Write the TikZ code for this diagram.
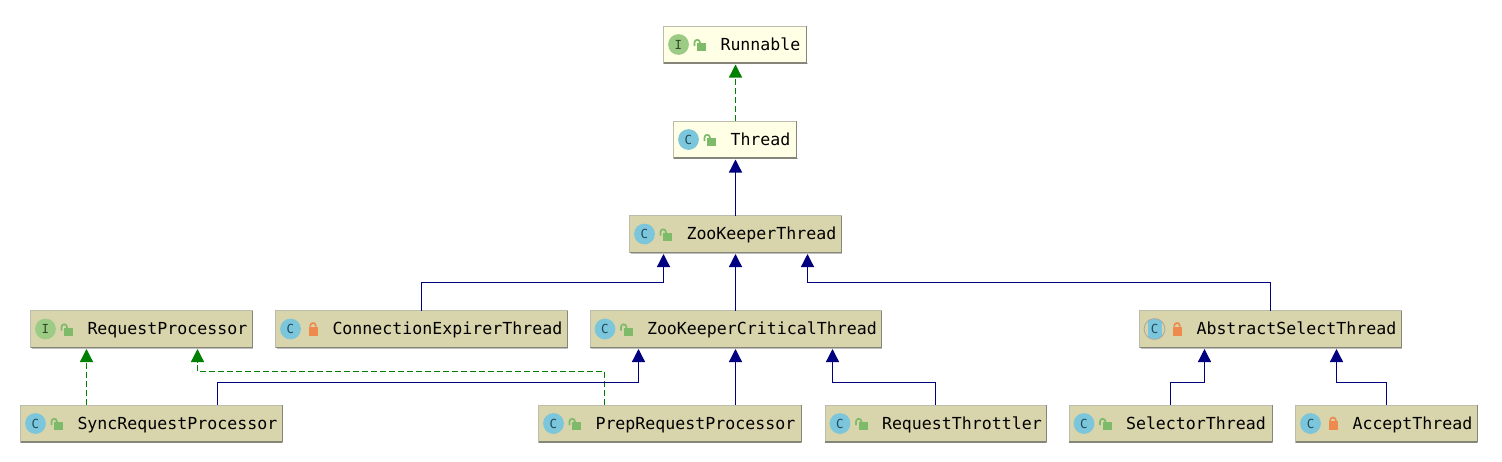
\documentclass[tikz,border=0pt]{standalone}
\usepackage{fontspec}
\newfontfamily\classfont{DejaVu Sans Mono}
\usetikzlibrary{arrows.meta,calc}
\definecolor{appbox}{HTML}{D8D4AB}
\definecolor{jdkbox}{HTML}{FFFFE6}
\definecolor{boxedge}{HTML}{BDBDAE}
\definecolor{boxshade}{HTML}{85857A}
\definecolor{ifacefill}{HTML}{9CCB85}
\definecolor{classfill}{HTML}{7CC6DC}
\definecolor{ifaceglyph}{HTML}{2F4A24}
\definecolor{classglyph}{HTML}{1F4A5C}
\definecolor{lockopen}{HTML}{7DBB6A}
\definecolor{lockshut}{HTML}{EE8A4E}
\definecolor{extendline}{HTML}{000080}
\definecolor{implline}{HTML}{008000}
\tikzset{
  x=1pt, y=-1pt,
  classbox/.style={draw=boxedge, line width=0.8pt, anchor=north west, inner sep=0pt, outer sep=0pt},
  classname/.style={anchor=base west, inner sep=0pt, outer sep=0pt, text=black,
    font=\classfont\fontsize{16.6}{18}\selectfont},
  discletter/.style={inner sep=0pt, outer sep=0pt,
    font=\classfont\fontsize{12.5}{12}\selectfont},
  glyph-I/.style={text=ifaceglyph},
  glyph-C/.style={text=classglyph},
  ifacedisc/.style={fill=ifacefill},
  classdisc/.style={fill=classfill},
  abstractdisc/.style={fill=appbox, draw=black!35, line width=0.8pt,
    path picture={\fill[classfill] ([xshift=-7pt]path picture bounding box.north) rectangle ([xshift=7pt]path picture bounding box.south);}},
  extends/.style={draw=extendline, line width=1.3pt, shorten >=1.5pt,
    -{Triangle[length=13pt,width=13pt,fill=extendline]}},
  implements/.style={draw=implline, line width=1.3pt, dash pattern=on 6pt off 3pt, shorten >=1.5pt,
    -{Triangle[length=13pt,width=13pt,fill=implline]}},
}
% Class box: name, left, top, right, bottom, fill, disc style, disc letter, lock, title
\newcommand{\umlbox}[9]{%
  \def\bxname{#1}\def\bxl{#2}\def\bxt{#3}\def\bxr{#4}\def\bxb{#5}%
  \umlboxrest{#6}{#7}{#8}{#9}}
\newcommand{\umlboxrest}[5]{%
  \pgfmathsetmacro{\bxw}{\bxr-\bxl}%
  \pgfmathsetmacro{\bxh}{\bxb-\bxt}%
  \pgfmathsetmacro{\bxm}{(\bxt+\bxb)/2}%
  \fill[black!25] (\bxl+1,\bxb) rectangle (\bxr+1,\bxb+1.4);
  \node[classbox, fill=#1, minimum width=\bxw pt, minimum height=\bxh pt] (\bxname) at (\bxl,\bxt) {};
  \draw[boxshade, line width=0.8pt] (\bxr,\bxt) -- (\bxr,\bxb);
  \draw[boxshade, line width=1.4pt] (\bxl,\bxb) -- (\bxr,\bxb);
  \path[#2] (\bxl+15,\bxm) circle (10.4);
  \node[discletter, glyph-#3] (\bxname-kind) at (\bxl+15,\bxm) {#3};
  #4
  \node[classname] (\bxname-title) at (\bxl+57,\bxm+5.5) {#5};
}
% Padlocks, placed relative to the left edge and mid-height of the current box
\newcommand{\openlock}{%
  \fill[lockopen] (\bxl+33.5,\bxm-1.5) rectangle (\bxl+42.5,\bxm+6.5);
  \draw[lockopen, line width=1.7pt] (\bxl+31,\bxm+1.5) -- (\bxl+31,\bxm-2)
    arc[start angle=180,end angle=360,radius=2.7] -- (\bxl+36.4,\bxm-1);
}
\newcommand{\shutlock}{%
  \fill[lockshut] (\bxl+33,\bxm-2.5) rectangle (\bxl+42,\bxm+6.5);
  \draw[lockshut, line width=1.7pt] (\bxl+34.7,\bxm-2.5) -- (\bxl+34.7,\bxm-3.2)
    arc[start angle=180,end angle=360,radius=2.8] -- (\bxl+40.3,\bxm-2.5);
}
\begin{document}
\begin{tikzpicture}
  \useasboundingbox (0,0) rectangle (1502,461);
  \umlbox{runnable}{663.5}{26}{806.5}{63}{jdkbox}{ifacedisc}{I}{\openlock}{Runnable}
  \umlbox{thread}{673.5}{121}{796.5}{158}{jdkbox}{classdisc}{C}{\openlock}{Thread}
  \umlbox{zkthread}{629.5}{215.5}{841}{252.5}{appbox}{classdisc}{C}{\openlock}{ZooKeeperThread}
  \umlbox{reqproc}{30.5}{310.5}{252}{347.5}{appbox}{ifacedisc}{I}{\openlock}{RequestProcessor}
  \umlbox{connexp}{275.5}{310.5}{567}{347.5}{appbox}{classdisc}{C}{\shutlock}{ConnectionExpirerThread}
  \umlbox{zkcrit}{590}{310.5}{881}{347.5}{appbox}{classdisc}{C}{\openlock}{ZooKeeperCriticalThread}
  \umlbox{absselect}{1139.5}{310.5}{1401}{347.5}{appbox}{abstractdisc}{C}{\shutlock}{AbstractSelectThread}
  \umlbox{syncproc}{20.5}{405}{282}{442}{appbox}{classdisc}{C}{\openlock}{SyncRequestProcessor}
  \umlbox{prepproc}{538.5}{405}{801}{442}{appbox}{classdisc}{C}{\openlock}{PrepRequestProcessor}
  \umlbox{throttler}{825}{405}{1046}{442}{appbox}{classdisc}{C}{\openlock}{RequestThrottler}
  \umlbox{selector}{1069}{405}{1272}{442}{appbox}{classdisc}{C}{\openlock}{SelectorThread}
  \umlbox{accept}{1295.5}{405}{1477}{442}{appbox}{classdisc}{C}{\shutlock}{AcceptThread}

  % Arrival and departure points on the box edges
  \coordinate (trunk) at ([xshift=0.5pt]thread.south);
  \coordinate (rp-left) at ([xshift=-54.75pt]reqproc.south);
  \coordinate (rp-right) at ([xshift=56.25pt]reqproc.south);
  \coordinate (prep-left) at ([xshift=-65.25pt]prepproc.north);
  \coordinate (sync-right) at ([xshift=66.25pt]syncproc.north);
  \coordinate (conn-top) at ([xshift=0.25pt]connexp.north);
  \coordinate (abs-top) at ([xshift=0.25pt]absselect.north);
  \coordinate (accept-top) at ([xshift=0.25pt]accept.north);

  % Implemented interfaces
  \draw[implements] (thread.north -| trunk) -- (runnable.south -| trunk);
  \draw[implements] (syncproc.north -| rp-left) -- (rp-left);
  \draw[implements] (prep-left) -- ++(0,-33.5) -| (rp-right);
  % Superclasses
  \draw[extends] (zkthread.north -| trunk) -- (trunk);
  \draw[extends] (zkcrit.north -| trunk) -- (zkthread.south -| trunk);
  \draw[extends] (conn-top) -- ++(0,-28) -| ([xshift=-71.75pt]zkthread.south);
  \draw[extends] (abs-top) -- ++(0,-28) -| ([xshift=72.25pt]zkthread.south);
  \draw[extends] (sync-right) -- ++(0,-22.5) -| ([xshift=-97pt]zkcrit.south);
  \draw[extends] (prepproc.north -| zkcrit.south) -- (zkcrit.south);
  \draw[extends] (throttler.north) -- ++(0,-22.5) -| ([xshift=97pt]zkcrit.south);
  \draw[extends] (selector.north) -- ++(0,-22.5) -| ([xshift=-65.75pt]absselect.south);
  \draw[extends] (accept-top) -- ++(0,-22.5) -| ([xshift=66.25pt]absselect.south);
\end{tikzpicture}
\end{document}
